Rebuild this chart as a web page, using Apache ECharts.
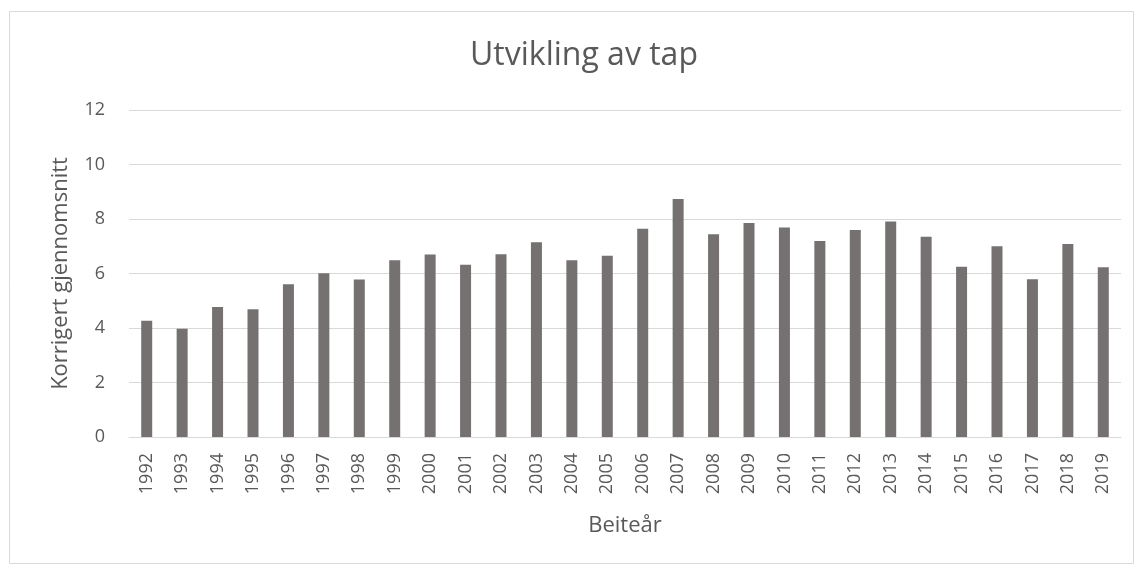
<!DOCTYPE html>
<html>
<head>
<meta charset="utf-8">
<script src="https://cdn.jsdelivr.net/npm/echarts@6/dist/echarts.min.js"></script>
<style>
html, body { margin: 0; padding: 0; background: #fff; }
#chart { width: 1138px; height: 567px; }
</style>
</head>
<body>
<div id="chart"></div>
<script>
var years = ['1992', '1993', '1994', '1995', '1996', '1997', '1998', '1999', '2000', '2001',
	'2002', '2003', '2004', '2005', '2006', '2007', '2008', '2009', '2010', '2011',
	'2012', '2013', '2014', '2015', '2016', '2017', '2018', '2019'];
var tap = [4.27, 3.97, 4.77, 4.69, 5.61, 6.01, 5.78, 6.49, 6.70, 6.32,
	6.71, 7.15, 6.49, 6.65, 7.64, 8.73, 7.44, 7.85, 7.69, 7.19,
	7.60, 7.91, 7.35, 6.25, 7.00, 5.79, 7.08, 6.23];
var yTicks = [0, 2, 4, 6, 8, 10, 12];

var textColor = '#595959';
var font = 'Open Sans';

var chart = echarts.init(document.getElementById('chart'));

var option = {
	animation : false,
	backgroundColor : '#fff',
	textStyle : { fontFamily : font },
	// ramme rundt hele diagrammet
	graphic : [ {
		type : 'rect',
		shape : { x : 9.5, y : 11.5, width : 1124, height : 552 },
		style : { fill : 'none', stroke : '#d9d9d9', lineWidth : 1 }
	} ],
	title : {
		text : 'Utvikling av tap',
		left : 579,
		textAlign : 'center',
		top : 35,
		textStyle : {
			fontFamily : font,
			fontSize : 32,
			fontWeight : 'normal',
			color : textColor
		}
	},
	grid : {
		left : 129,
		right : 17,
		top : 110,
		bottom : 130
	},
	xAxis : {
		type : 'category',
		data : years,
		name : 'Beiteår',
		nameLocation : 'middle',
		nameGap : 78,
		nameTextStyle : { fontFamily : font, fontSize : 22, color : textColor },
		axisLine : { lineStyle : { color : '#d9d9d9' } },
		axisTick : { show : false },
		axisLabel : {
			rotate : 90,
			margin : 16,
			fontFamily : font,
			fontSize : 18,
			color : textColor
		}
	},
	yAxis : {
		type : 'value',
		min : yTicks[0],
		max : yTicks[yTicks.length - 1],
		interval : 2,
		name : 'Korrigert gjennomsnitt',
		nameLocation : 'middle',
		nameGap : 57,
		nameTextStyle : { fontFamily : font, fontSize : 22, color : textColor },
		axisLine : { show : false },
		axisTick : { show : false },
		axisLabel : {
			margin : 24,
			fontFamily : font,
			fontSize : 18,
			color : textColor
		},
		splitLine : { lineStyle : { color : '#d9d9d9', width : 1 } }
	},
	series : [ {
		type : 'bar',
		data : tap,
		barWidth : 11,
		itemStyle : { color : '#767171' }
	} ]
};
chart.setOption(option);
</script>
</body>
</html>
